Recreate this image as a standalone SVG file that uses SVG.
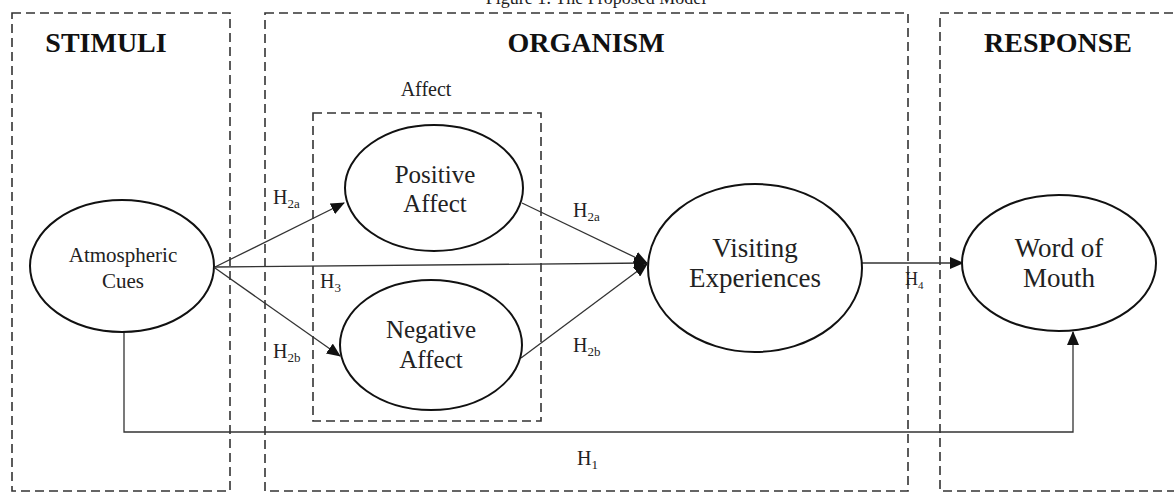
<svg xmlns="http://www.w3.org/2000/svg" width="1174" height="493" viewBox="0 0 1174 493">
<style>
.box{fill:none;stroke:#333;stroke-width:1.6;stroke-dasharray:9 5}
.node{fill:#fff;stroke:#111;stroke-width:2}
.edge{fill:none;stroke:#333;stroke-width:1.3}
.hdr{font-family:"Liberation Serif",serif;font-weight:bold;font-size:28px;fill:#111;text-anchor:middle}
.lbl{font-family:"Liberation Serif",serif;fill:#222;text-anchor:middle}
.h{font-family:"Liberation Serif",serif;font-size:20px;fill:#222}
.sub{font-size:13px}
</style>
<defs>
<marker id="arr" markerWidth="14" markerHeight="12" refX="13" refY="6" orient="auto" markerUnits="userSpaceOnUse">
<path d="M0,0 L14,6 L0,12 Z" fill="#111"/>
</marker>
</defs>
<rect width="1174" height="493" fill="#fff"/>
<text x="596" y="4" class="lbl" style="font-size:18px">Figure 1: The Proposed Model</text>
<g id="stimuli-panel">
<rect class="box" x="12" y="13" width="218" height="478"/>
<text class="hdr" x="106" y="52">STIMULI</text>
</g>
<g id="organism-panel">
<rect class="box" x="265" y="13" width="643" height="478"/>
<text class="hdr" x="586" y="52">ORGANISM</text>
</g>
<g id="response-panel">
<rect class="box" x="940" y="13" width="250" height="478"/>
<text class="hdr" x="1058" y="52">RESPONSE</text>
</g>
<g id="affect-group">
<rect class="box" x="313" y="113" width="228" height="308"/>
<text class="lbl" x="426" y="96" style="font-size:20px">Affect</text>
</g>
<g id="connectors">
<line class="edge" x1="215" y1="267" x2="344" y2="203" marker-end="url(#arr)"/>
<line class="edge" x1="215" y1="268" x2="340" y2="356" marker-end="url(#arr)"/>
<line class="edge" x1="215" y1="267" x2="647" y2="263" marker-end="url(#arr)"/>
<line class="edge" x1="522" y1="203" x2="647" y2="263" marker-end="url(#arr)"/>
<line class="edge" x1="521" y1="358" x2="647" y2="264" marker-end="url(#arr)"/>
<line class="edge" x1="862" y1="263" x2="963" y2="263" marker-end="url(#arr)"/>
<polyline class="edge" points="124,332 124,432 1073,432 1073,332" marker-end="url(#arr)"/>
<text class="h" x="273" y="204">H<tspan class="sub" dy="4">2a</tspan></text>
<text class="h" x="273" y="358">H<tspan class="sub" dy="4">2b</tspan></text>
<text class="h" x="320" y="288">H<tspan class="sub" dy="4">3</tspan></text>
<text class="h" x="573" y="217">H<tspan class="sub" dy="4">2a</tspan></text>
<text class="h" x="573" y="352">H<tspan class="sub" dy="4">2b</tspan></text>
<text class="h" x="905" y="285" style="font-size:18px">H<tspan class="sub" dy="4" style="font-size:11px">4</tspan></text>
<text class="h" x="577" y="465">H<tspan class="sub" dy="4">1</tspan></text>
</g>
<g id="atmospheric-cues">
<ellipse class="node" cx="122" cy="266" rx="92" ry="66"/>
<text class="lbl" x="123" y="262" style="font-size:21px">Atmospheric</text>
<text class="lbl" x="123" y="288" style="font-size:21px">Cues</text>
</g>
<g id="positive-affect">
<ellipse class="node" cx="434" cy="188" rx="89" ry="63"/>
<text class="lbl" x="435" y="183" style="font-size:25px">Positive</text>
<text class="lbl" x="435" y="212" style="font-size:25px">Affect</text>
</g>
<g id="negative-affect">
<ellipse class="node" cx="431" cy="345" rx="91" ry="65"/>
<text class="lbl" x="431" y="338" style="font-size:25px">Negative</text>
<text class="lbl" x="431" y="368" style="font-size:25px">Affect</text>
</g>
<g id="visiting-experiences">
<ellipse class="node" cx="755" cy="268" rx="107" ry="84"/>
<text class="lbl" x="755" y="257" style="font-size:27px">Visiting</text>
<text class="lbl" x="755" y="287" style="font-size:27px">Experiences</text>
</g>
<g id="word-of-mouth">
<ellipse class="node" cx="1059" cy="263" rx="97" ry="68"/>
<text class="lbl" x="1059" y="257" style="font-size:27px">Word of</text>
<text class="lbl" x="1059" y="287" style="font-size:27px">Mouth</text>
</g>
</svg>
